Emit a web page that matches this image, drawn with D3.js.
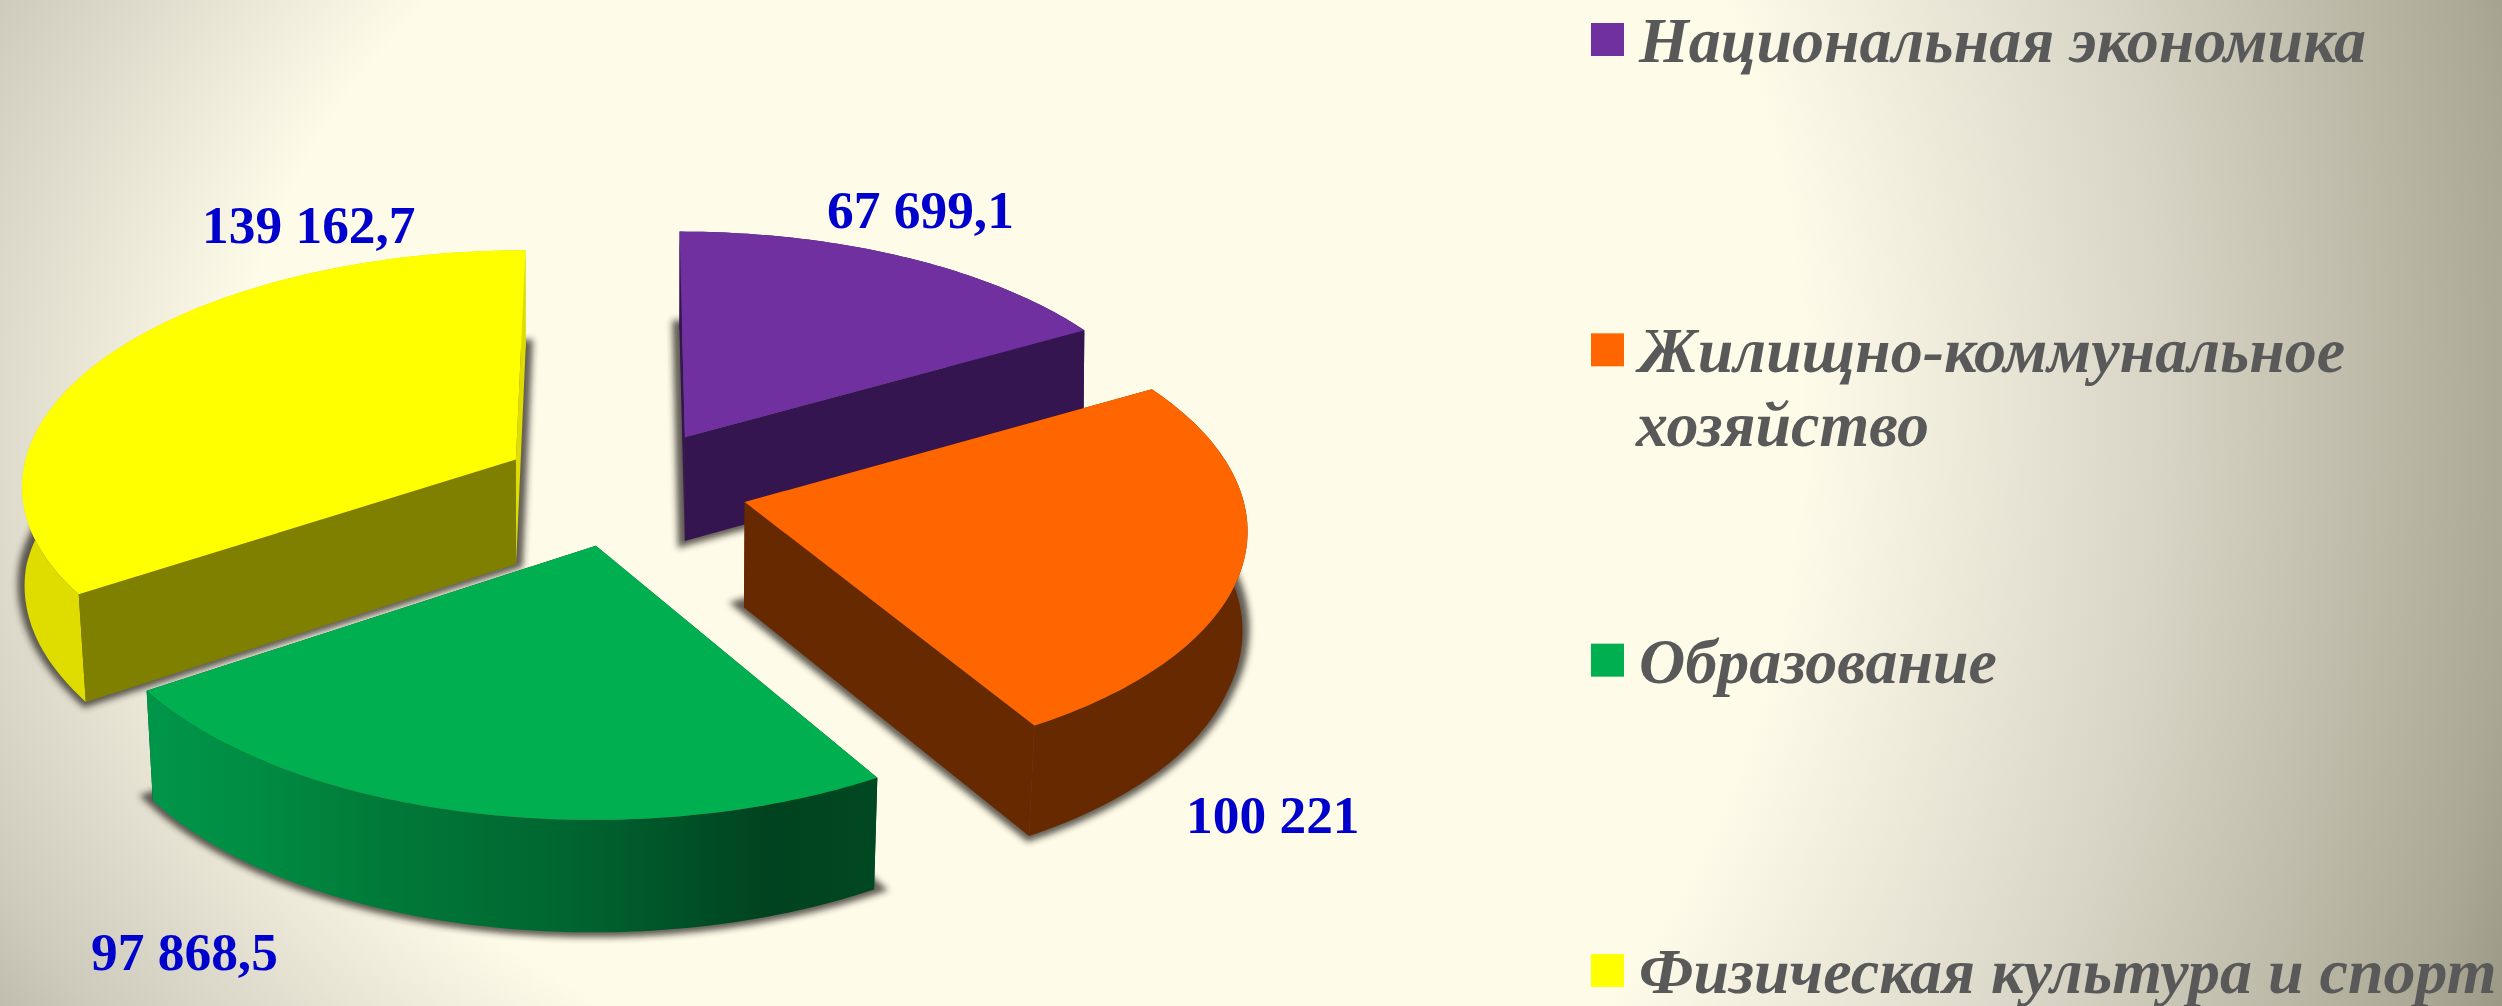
<!DOCTYPE html>
<html><head><meta charset="utf-8">
<script src="https://cdn.jsdelivr.net/npm/d3@7"></script>
<style>html,body{margin:0;padding:0;background:#fefbe9;overflow:hidden}svg{display:block}</style>
</head><body><div id="c"></div>
<script>
const categories = ["Национальная экономика", "Жилищно-коммунальное хозяйство", "Образование", "Физическая культура и спорт"];
const legendLines = [["Национальная экономика"], ["Жилищно-коммунальное", "хозяйство"], ["Образование"], ["Физическая культура и спорт"]];
const values = [67699.1, 100221, 97868.5, 139162.7];
const valueLabels = ["67 699,1", "100 221", "97 868,5", "139 162,7"];
const topColors = ["#7030a0", "#ff6600", "#00b050", "#ffff00"];
const faceColors = ["#35154f", "#662900", "#00401f", "#808000"];
const rimColors = ["#35154f", "#662900", "url(#greenRim)", "#dfdc00"];
const backFaceColors = ["#35154f", "#662900", "#00401f", "#dfdc00"];
const paintOrder = [0, 3, 1, 2];
const labelPos = [[827, 228], [1186, 833], [91, 970], [202, 243]];

const W = 2502, H = 1006;
const cx = 624, cy = 487, bx = 496, ay = 235, k = 0.098, explode = 0.25;
const depth = 105, depthY = 6, taper = 0.013;

const svg = d3.select("#c").append("svg").attr("width", W).attr("height", H).attr("viewBox", [0, 0, W, H]);
const defs = svg.append("defs");

function radial(id, gy, sx, sy, r, stops) {
  const g = defs.append("radialGradient").attr("id", id).attr("gradientUnits", "userSpaceOnUse")
    .attr("cx", 0).attr("cy", 0).attr("r", r)
    .attr("gradientTransform", `translate(1050 ${gy}) scale(${sx} ${sy})`);
  stops.forEach(([o, c]) => g.append("stop").attr("offset", o / r).attr("stop-color", c));
}
radial("bgLeft", 440, 814, 671, 1.6, [[1, "#fefbe9"], [1.29, "#dedbcc"], [1.447, "#cecbbc"], [1.54, "#c0bdae"], [1.6, "#bab7a8"]]);
radial("bgRight", 400, 750, 890, 2.1, [[1, "#fefbe9"], [1.1, "#f6f3e3"], [1.48, "#d8d5c6"], [1.95, "#aba895"], [2.05, "#9c9987"]]);
svg.append("rect").attr("width", W).attr("height", H).attr("fill", "url(#bgRight)");
svg.append("rect").attr("width", 1050).attr("height", H).attr("fill", "url(#bgLeft)");

const rimGrad = defs.append("linearGradient").attr("id", "greenRim").attr("gradientUnits", "userSpaceOnUse")
  .attr("x1", 147).attr("x2", 876).attr("y1", 0).attr("y2", 0);
[[0, "#00964a"], [0.15, "#008c42"], [0.32, "#007a38"], [0.58, "#006530"], [0.67, "#005a2b"], [0.85, "#00421f"], [1, "#004822"]]
  .forEach(([o, c]) => rimGrad.append("stop").attr("offset", o).attr("stop-color", c));

const blur = defs.append("filter").attr("id", "blur").attr("x", "-10%").attr("y", "-10%").attr("width", "120%").attr("height", "120%");
blur.append("feGaussianBlur").attr("stdDeviation", 3);

const arcs = d3.pie().sort(null).startAngle(0).endAngle(2 * Math.PI)(values);

function project(X, Y, Z) {
  const w = 1 - k * Y;
  const s = 1 - taper * Z * Math.max(0.15, Math.min(1, (Y + 0.2) / 0.6));
  return [cx + s * bx * X / w, cy + ay * Y / w + Z * (depth + depthY * Y)];
}
function ground(d, r, a) {
  const mid = (d.startAngle + d.endAngle) / 2;
  return [explode * Math.sin(mid) + r * Math.sin(a), -explode * Math.cos(mid) - r * Math.cos(a)];
}
const P = (d, r, a, Z) => { const g = ground(d, r, a); return project(g[0], g[1], Z); };
const angles = d => { const n = Math.ceil((d.endAngle - d.startAngle) * 180 / Math.PI);
  return d3.range(n + 1).map(i => d.startAngle + (d.endAngle - d.startAngle) * i / n); };
const line = d3.line();
const sector = (d, Z) => line([P(d, 0, 0, Z), ...angles(d).map(a => P(d, 1, a, Z))]) + "Z";
const rim = d => line([...angles(d).map(a => P(d, 1, a, 0)), ...angles(d).reverse().map(a => P(d, 1, a, 1))]) + "Z";
const face = (d, a) => line([P(d, 0, a, 0), P(d, 1, a, 0), P(d, 1, a, 1), P(d, 0, a, 1)]) + "Z";

svg.append("g").attr("filter", "url(#blur)").selectAll("path").data(arcs).join("path")
  .attr("d", d => sector(d, 1)).attr("transform", "translate(0,-2)")
  .attr("fill", "#2e2a22").attr("stroke", "#2e2a22").attr("stroke-width", 14).attr("opacity", 0.75);

paintOrder.forEach(i => {
  const d = arcs[i];
  const g = svg.append("g");
  const drawRim = () => g.append("path").attr("d", rim(d)).attr("fill", rimColors[i]);
  const drawFaces = () => {
    g.append("path").attr("d", face(d, d.startAngle)).attr("fill", faceColors[i]);
    g.append("path").attr("d", face(d, d.endAngle)).attr("fill", backFaceColors[i]);
  };
  // The front slice shows only its outer wall; the others show their cut faces over the wall.
  if (i === 2) { drawFaces(); drawRim(); } else { drawRim(); drawFaces(); }
  g.append("path").attr("d", sector(d, 0)).attr("fill", topColors[i]);
});

svg.append("g").selectAll("text").data(valueLabels).join("text")
  .attr("x", (d, i) => labelPos[i][0]).attr("y", (d, i) => labelPos[i][1])
  .attr("font-family", "'Liberation Serif'").attr("font-weight", "bold").attr("font-size", 53.4)
  .attr("fill", "#0000cc").text(d => d);

const legendY = d3.scaleLinear().domain([0, 3]).range([62, 993]);
const legend = svg.append("g").selectAll("g").data(categories).join("g");
legend.append("rect").attr("x", 1591).attr("y", (d, i) => legendY(i) - 39).attr("width", 33).attr("height", 33)
  .attr("fill", (d, i) => topColors[i]);
legend.each(function (d, i) {
  legendLines[i].forEach((t, j) => d3.select(this).append("text")
    .attr("x", 1639 - j * 3).attr("y", legendY(i) + j * 74)
    .attr("font-family", "'Liberation Serif'").attr("font-weight", "bold").attr("font-style", "italic")
    .attr("font-size", 64).attr("fill", "#595959").text(t));
});
</script></body></html>
